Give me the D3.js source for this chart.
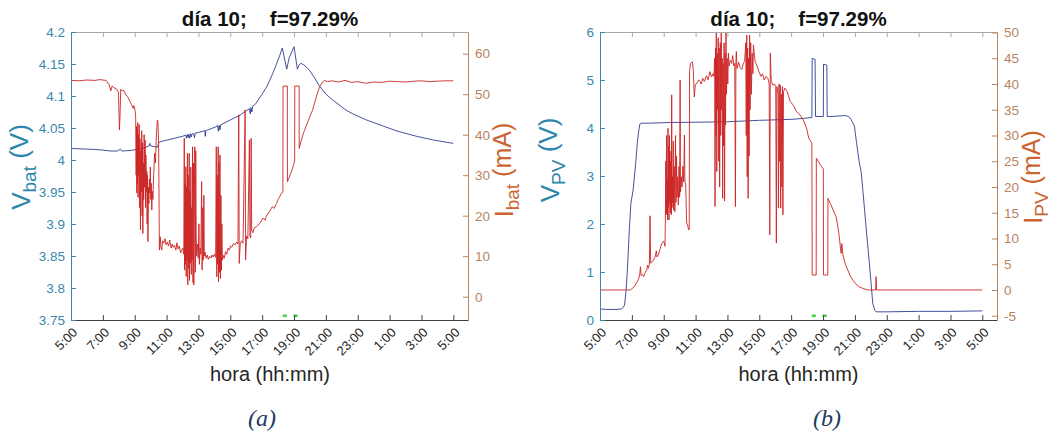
<!DOCTYPE html>
<html><head><meta charset="utf-8">
<script src="https://cdn.jsdelivr.net/npm/d3@7/dist/d3.min.js"></script>
<style>
body{margin:0;background:#fff;}
svg text{font-family:"Liberation Sans",Arial,Helvetica,sans-serif;}
svg text.cap{font-family:"Liberation Serif","Times New Roman",serif;font-style:italic;}
</style></head><body>
<svg id="chart" width="1060" height="435"></svg>
<script>
// ---------- data (hours since 5:00) ----------
const tickHours = [0,2,4,6,8,10,12,14,16,18,20,22,24];
const tickLabels = ["5:00","7:00","9:00","11:00","13:00","15:00","17:00","19:00","21:00","23:00","1:00","3:00","5:00"];
const vbatTicks = [3.75,3.8,3.85,3.9,3.95,4,4.05,4.1,4.15,4.2];
const ibatTicks = [0,10,20,30,40,50,60];
const vpvTicks = [0,1,2,3,4,5,6];
const ipvTicks = [-5,0,5,10,15,20,25,30,35,40,45,50];
const markerHours = [13.42, 14.1];
const titleParts = ["día 10;", "f=97.29%"];
const xAxisTitle = "hora (hh:mm)";
const captions = ["(a)", "(b)"];

const vbat = [[0,4.018],[0.5,4.0175],[1.0,4.017],[1.5,4.0165],[2.0,4.0155],[2.5,4.014],[2.9,4.014],[3.0,4.0155],[3.1,4.017],[3.2,4.014],[3.5,4.0145],[3.8,4.015],[4.0,4.016],[4.3,4.017],[4.6,4.019],[4.9,4.022],[4.95,4.026],[5.0,4.022],[5.2,4.021],[5.44,4.020],[5.5,4.027],[5.65,4.029],[6.0,4.031],[6.5,4.034],[7.0,4.037],[7.2,4.039],
[7.25,4.034],[7.3,4.04],[7.35,4.035],[7.4,4.04],[7.45,4.034],[7.5,4.041],[7.55,4.036],[7.6,4.041],[7.7,4.041],[7.75,4.035],[7.8,4.042],[8.0,4.043],[8.3,4.045],[8.4,4.046],[8.43,4.037],[8.46,4.046],[8.8,4.049],[9.1,4.052],[9.2,4.054],[9.25,4.045],[9.3,4.054],[9.35,4.047],[9.4,4.055],[9.8,4.060],[10.2,4.065],[10.6,4.070],[11.0,4.077],[11.2,4.08],[11.25,4.072],[11.3,4.082],[11.35,4.075],[11.4,4.084],[11.6,4.088],[12.0,4.103],[12.3,4.115],[12.66,4.135],[12.9,4.15],[13.1,4.163],[13.26,4.175],[13.54,4.142],[13.7,4.16],[14.0,4.177],[14.21,4.142],[14.3,4.148],[14.42,4.151],[14.6,4.149],[14.95,4.141],[15.3,4.128],[15.58,4.116],[16.0,4.103],[16.42,4.094],[17.26,4.078],[17.7,4.072],[18.5,4.063],[19.6,4.053],[20.5,4.045],[21.7,4.037],[22.8,4.031],[24,4.026]];

const ibat = [[0,53.4],[0.5,53.3],[1.0,53.5],[1.5,53.4],[1.8,53.6],[2.2,53.4],[2.4,52.3],[2.5,50.8],[2.58,52.0],[2.7,51.6],[2.85,51.3],[2.98,50.5],[3.04,41.2],[3.08,45],[3.12,51.2],[3.2,50.8],[3.3,51.0],[3.45,49.8],[3.55,49.4],[3.7,48.2],[3.8,47.4],[3.9,46.5],[3.95,47.2],[4.02,46.0],[4.06,44.2],
[4.09,30],[4.11,42],[4.13,25.6],[4.15,41],[4.17,28],[4.19,43],[4.21,24.5],[4.23,40],[4.26,30],[4.28,42.5],[4.31,22],[4.33,39],[4.36,16.5],[4.38,36],[4.41,26],[4.44,41],[4.46,20],[4.49,38],[4.51,15.6],[4.54,33],[4.56,24],[4.59,40],[4.62,27],[4.65,38.7],[4.68,22],[4.7,35],[4.73,26],[4.76,31],[4.78,18],[4.8,30],[4.83,13.6],[4.86,27],[4.89,23],[4.92,29],[4.95,25.6],[4.98,32],[5.01,24],[5.04,28],[5.07,21.4],[5.1,26],[5.14,24],[5.19,30],[5.25,35.4],[5.3,33],[5.36,40],[5.42,43.6],[5.46,43],[5.5,38],[5.55,11.5],
[5.6,14.8],[5.65,12],[5.7,11.5],[5.75,13.8],[5.82,13.2],[5.9,14.3],[5.97,12.8],[6.05,13.5],[6.12,12.5],[6.2,14.0],[6.28,12.0],[6.35,13.0],[6.42,12.2],[6.5,12.7],[6.58,11.5],[6.65,13.3],[6.72,11.8],[6.8,12.5],[6.88,10.8],[6.95,11.5],[7.02,12.0],[7.08,10.5],
[7.11,39.1],[7.13,6.6],[7.16,28],[7.18,8],[7.21,32.1],[7.23,5],[7.26,27],[7.28,9],[7.31,35.4],[7.33,2.9],[7.36,30],[7.39,7],[7.42,35.4],[7.44,4],[7.47,26],[7.49,8.3],[7.52,32],[7.55,5.5],[7.58,22],[7.6,9],[7.63,37],[7.66,3.5],[7.69,33],[7.71,2.9],[7.74,24],[7.77,37],[7.8,6],[7.83,36],[7.86,15],[7.89,10],[7.94,13],[7.99,9.5],[8.03,18],[8.06,8],[8.1,12],[8.15,10.5],[8.2,28.4],[8.23,6.6],[8.27,22],[8.3,9],[8.34,25],[8.37,10],[8.42,11],[8.48,9.5],
[8.55,10.3],[8.62,9.2],[8.7,10.0],[8.78,9.5],[8.85,10.3],[8.92,9.8],[9.0,10.5],[9.08,9.7],
[9.12,37],[9.15,4.9],[9.18,30],[9.2,8],[9.24,37],[9.26,3.7],[9.29,33],[9.32,6],[9.35,35],[9.38,4.5],[9.41,25],[9.44,6.5],[9.47,18],[9.5,9],
[9.56,10.2],[9.62,9.5],[9.7,11.1],[9.78,10.5],[9.86,12.0],[9.94,11.5],[10.02,12.5],[10.1,12.2],[10.2,13.2],[10.3,12.8],[10.4,13.5],[10.48,13.0],
[10.53,44.9],[10.56,8.2],[10.62,13.0],[10.7,13.8],[10.8,13.2],[10.93,46.1],[10.96,9.1],[11.02,15],[11.1,14.3],[11.2,38.7],[11.23,15],[11.28,14.5],[11.31,39.1],[11.34,16.5],[11.42,15.8],[11.5,17.0],
[11.65,17.3],[11.85,18.1],[12.05,19.4],[12.2,18.9],[12.25,19.8],[12.45,21.0],[12.63,22.2],[12.75,21.8],[12.9,23.0],[13.0,24.0],[13.1,24.7],[13.2,25.5],[13.3,25.8],
[13.31,52.0],[13.58,52.0],[13.585,28.4],[13.7,29.5],[13.85,31],[14.0,33],[14.04,33.5],[14.045,52],[14.32,52],[14.325,36.6],[14.45,38.5],[14.6,40.5],[14.75,42],[14.9,43.5],[15.05,45],[15.16,46],[15.3,48],[15.45,50],[15.6,51.8],[15.79,53],[15.9,53.4],[16.1,53.1],[16.4,53.3],[16.8,53.0],[17.2,53.4],[17.6,52.9],[18.0,53.1],[18.5,52.7],[19.0,53.0],[19.5,52.9],[20.0,53.2],[20.5,53.1],[21.0,53.0],[21.5,53.2],[22.0,53.3],[22.5,53.1],[23.0,53.2],[23.5,53.3],[24.0,53.3]];

const vpv = [[0,0.23],[0.5,0.22],[1.0,0.22],[1.34,0.23],[1.45,0.26],[1.54,0.31],[1.64,0.62],[1.74,1.18],[1.84,1.88],[1.94,2.43],[2.08,2.71],[2.24,3.26],[2.34,3.68],[2.44,3.96],[2.5,4.08],[2.6,4.1],[3.07,4.1],[4.38,4.115],[6.0,4.12],[8.0,4.13],[10.0,4.16],[12.0,4.18],[12.76,4.2],[13.3,4.22],[13.32,5.45],[13.5,5.43],[13.53,4.24],[14.02,4.24],[14.03,5.33],[14.24,5.31],[14.26,4.24],[14.5,4.24],[15.0,4.25],[15.4,4.26],[15.6,4.24],[15.76,4.18],[15.97,4.04],[16.1,3.7],[16.28,3.27],[16.39,3.1],[16.5,2.7],[16.7,1.94],[16.91,1.18],[17.12,0.35],[17.25,0.2],[17.33,0.17],[18,0.17],[20,0.18],[22,0.18],[24,0.19]];

const ipv = [[0,0],[1.0,0],[1.9,0],[2.04,0.3],[2.2,0.9],[2.34,1.6],[2.44,2.3],[2.5,3.2],[2.54,4.5],[2.58,2.8],[2.66,3.0],[2.74,2.6],[2.84,3.4],[2.94,3.9],[2.98,4.8],[3.04,4.2],[3.1,5.0],[3.14,14.4],[3.18,5.2],[3.26,5.5],[3.34,5.7],[3.44,6.3],[3.54,7.6],[3.58,6.4],[3.66,6.8],[3.76,7.8],[3.84,8.7],[3.92,9.2],[4.0,9.5],[4.08,8.5],
[4.1,12.6],[4.13,25],[4.15,14.6],[4.18,30],[4.2,15],[4.22,21.4],[4.24,13.6],[4.27,31.4],[4.29,16],[4.31,28],[4.33,13.6],[4.36,30],[4.38,17],[4.41,25],[4.43,15],[4.46,27],[4.48,14.6],[4.5,37.9],[4.52,16],[4.55,22],[4.57,17],[4.6,28.9],[4.62,15.5],[4.66,24],[4.7,15.2],[4.74,30],[4.77,17],[4.8,26],[4.84,18],[4.88,22],[4.92,16.5],[4.96,24],[5.0,18],[5.03,40.8],[5.05,19],[5.1,22],[5.15,20],[5.2,24],[5.25,21],[5.3,30.1],[5.33,21.0],[5.38,20.5],[5.44,13],[5.5,12.6],[5.56,11.7],
[5.6,11.7],[5.62,42.4],[5.68,44.0],[5.8,44.3],[5.86,42.5],[5.92,37.5],[5.98,39.8],[6.1,40.3],[6.2,40.8],[6.27,40.5],[6.35,40.0],[6.45,41.1],[6.55,40.5],[6.68,41.6],[6.78,40.8],[6.9,42.4],[7.0,41.4],[7.09,42.0],[7.15,41.5],
[7.2,45],[7.22,16.2],[7.25,47],[7.28,30],[7.3,50.2],[7.33,23],[7.36,46],[7.39,35],[7.42,49],[7.45,25],[7.48,47],[7.51,20],[7.55,48],[7.58,30],[7.61,50.2],[7.64,35],[7.67,45],[7.7,17.8],[7.73,44],[7.76,28],[7.79,48],[7.82,17.3],[7.85,46],[7.88,32],[7.91,50],[7.94,38],[7.98,45],[8.02,40],[8.06,46],[8.1,43.5],
[8.18,44.6],[8.26,44],[8.33,45.5],[8.4,43.5],[8.46,44],[8.5,16.2],[8.53,44],[8.56,46.3],[8.6,43],[8.7,44.2],[8.8,43.2],[8.9,42.8],[9.0,44],[9.08,44.5],
[9.15,48],[9.18,30],[9.21,49.5],[9.24,22],[9.27,47],[9.3,17.8],[9.33,45],[9.36,26],[9.39,49.5],[9.42,35],[9.46,48],[9.5,38],[9.55,46],[9.6,42],
[9.63,47.6],[9.73,44.5],[9.85,43.5],[9.98,42.4],[10.1,41.5],[10.2,42],[10.31,40.8],[10.42,41.5],[10.55,41],[10.62,40],
[10.66,10.7],[10.69,46],[10.75,40.5],[10.85,39.8],[10.95,40],[11.03,39.5],[11.07,9.1],[11.1,39.5],[11.18,38],[11.2,15.9],[11.24,40],[11.28,25],[11.31,39.8],[11.34,15.9],[11.38,38],[11.42,20],[11.45,39.5],[11.48,14.6],[11.52,38.5],[11.6,39.2],
[11.75,38.5],[11.94,36.6],[12.15,35.8],[12.35,34.6],[12.55,34.0],[12.76,33.0],[12.96,31.5],[13.1,29.5],[13.2,29.0],[13.3,28.5],
[13.32,2.9],[13.57,2.9],[13.58,25.6],[13.7,25.0],[13.85,24.2],[14.02,23.5],[14.03,2.9],[14.3,2.9],[14.31,17.8],[14.5,16.5],[14.82,14.2],[14.95,12],[15.05,9.5],[15.1,8.0],[15.14,7.1],[15.18,9.0],[15.25,6.8],[15.4,5.0],[15.55,3.9],[15.7,2.8],[15.87,1.9],[16.05,1.2],[16.28,0.6],[16.5,0.3],[16.7,0.1],[16.9,0],[17.3,0],[17.33,2.6],[17.36,0],[18,0],[20,0],[22,0],[24,0]];

// ---------- drawing ----------
const svg = d3.select("#chart");
const TOP = 32, H = 288, W = 397;
const xDomain = [0, 24.92];
const teal = "#3a88ad", tealLabel = "#2b86ab";
const brown = "#b8845f", brownLabel = "#cc6430";
const blue = "#23308a", red = "#cc2424";
const fmt = d => String(+d.toFixed(2));

function drawPanel(p, idx) {
  const g = svg.append("g").attr("transform", `translate(${p.left},${TOP})`);
  const x = d3.scaleLinear().domain(xDomain).range([0, W]);
  const yL = d3.scaleLinear().domain(p.yLdom).range([H, 0]);
  const yR = d3.scaleLinear().domain(p.yRdom).range([H, 0]);

  g.append("clipPath").attr("id", "clip" + idx).append("rect").attr("width", W).attr("height", H);
  const plot = g.append("g").attr("clip-path", `url(#clip${idx})`);

  plot.append("path").datum(p.v).attr("fill", "none").attr("stroke", blue).attr("stroke-width", 0.85)
    .attr("d", d3.line().x(d => x(d[0])).y(d => yL(d[1])));
  plot.append("path").datum(p.i).attr("fill", "none").attr("stroke", red).attr("stroke-width", 0.9)
    .attr("d", d3.line().x(d => x(d[0])).y(d => yR(d[1])));
  plot.selectAll(".mk").data(markerHours).join("rect")
    .attr("x", d => x(d) - 2).attr("y", H - 5.5).attr("width", 4).attr("height", 2.5).attr("fill", "#3fd23f");

  // top & bottom axes
  g.append("g").attr("color", "#a8a8a8")
    .call(d3.axisTop(x).tickValues(tickHours).tickSize(-5).tickSizeOuter(0).tickFormat(""));
  g.append("g").attr("transform", `translate(0,${H})`).attr("color", "#404040")
    .call(d3.axisBottom(x).tickValues(tickHours).tickSize(-5).tickSizeOuter(0).tickFormat(""));
  g.selectAll(".xl").data(tickHours).join("text")
    .attr("transform", d => `translate(${x(d) + 4},${H + 10}) rotate(-45)`)
    .attr("text-anchor", "end").attr("dy", "0.35em").attr("font-size", 13).attr("fill", "#262626")
    .text((d, k) => tickLabels[k]);

  // left axis
  const la = g.append("g").attr("color", teal)
    .call(d3.axisLeft(yL).tickValues(p.yLticks).tickSize(-5).tickSizeOuter(0).tickPadding(6).tickFormat(fmt));
  la.selectAll("text").attr("font-size", 13.5);
  // right axis
  const ra = g.append("g").attr("transform", `translate(${W},0)`).attr("color", brown)
    .call(d3.axisRight(yR).tickValues(p.yRticks).tickSize(-5).tickSizeOuter(0).tickPadding(7).tickFormat(fmt));
  ra.selectAll("text").attr("font-size", 13.5);

  // titles
  const cx = W / 2 + p.titleShift;
  const t = g.append("text").attr("x", cx).attr("y", -6).attr("text-anchor", "middle")
    .attr("font-size", 20.5).attr("font-weight", "bold").attr("fill", "#111");
  t.append("tspan").text(titleParts[0]);
  t.append("tspan").attr("dx", 23).text(titleParts[1]);

  g.append("text").attr("x", cx).attr("y", H + 61).attr("text-anchor", "middle")
    .attr("font-size", 20).attr("fill", "#262626").text(xAxisTitle);

  // y labels
  const yl = g.append("text").attr("transform", `translate(${p.ylX},${p.ylY}) rotate(-90)`)
    .attr("text-anchor", "middle").attr("font-size", 26).attr("fill", tealLabel);
  yl.append("tspan").text("V");
  yl.append("tspan").attr("dy", "0.32em").attr("font-size", 19).text(p.vSub);
  yl.append("tspan").attr("dy", "-0.32em").text(" (V)");

  const yr = g.append("text").attr("transform", `translate(${p.yrX},${p.yrY}) rotate(-90)`)
    .attr("text-anchor", "middle").attr("font-size", 25).attr("fill", brownLabel);
  yr.append("tspan").text("I");
  yr.append("tspan").attr("dy", "0.32em").attr("font-size", 19).text(p.vSub);
  yr.append("tspan").attr("dy", "-0.32em").text(" (mA)");

  svg.append("text").attr("class", "cap").attr("x", p.capX).attr("y", 426).attr("text-anchor", "middle")
    .attr("font-size", 24).attr("fill", "#1f3a60").text(captions[idx]);
}

drawPanel({left: 71, v: vbat, i: ibat, yLdom: [3.75, 4.2], yRdom: [-5.75, 65.35],
  yLticks: vbatTicks, yRticks: ibatTicks, vSub: "bat", titleShift: 0.5,
  ylX: -41, ylY: 135, yrX: W + 45, yrY: 138, capX: 262}, 0);
drawPanel({left: 600, v: vpv, i: ipv, yLdom: [0, 6], yRdom: [-5.83, 50.1],
  yLticks: vpvTicks, yRticks: ipvTicks, vSub: "PV", titleShift: 0,
  ylX: -41, ylY: 128, yrX: W + 45, yrY: 145, capX: 827}, 1);
</script>
</body></html>
